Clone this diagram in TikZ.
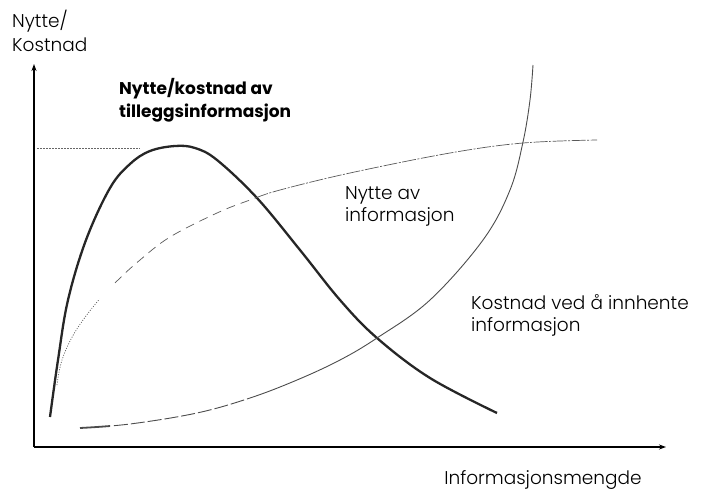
\documentclass[tikz,border=0pt]{standalone}
\usepackage{fontspec}
\IfFontExistsTF{Poppins Light}{\setmainfont{Poppins Light}[BoldFont=Poppins Bold]}{\setmainfont{Poppins}}
\usetikzlibrary{arrows.meta}
\begin{document}
\begin{tikzpicture}[x=1pt,y=-1pt,
  lbl/.style={inner sep=0pt,align=left,font=\fontsize{18.5}{22}\selectfont},
  axis/.style={line width=1.3pt,-{Stealth[length=7pt,width=5pt]}},
  netcurve/.style={line width=2.3pt,black!85},
  bencurve/.style={line width=0.7pt,black!65},
  costcurve/.style={line width=0.9pt,black!70}]
\useasboundingbox (0,0) rectangle (710,493);
\coordinate (O) at (34,447);
\coordinate (ytop) at (34,64);
\coordinate (xend) at (666,447);
\draw[axis] (O) -- (ytop);
\draw[axis] (O) -- (xend);
% dotted peak line
\coordinate (p1) at (37,148);
\coordinate (p2) at (140,148);
\draw[black!60,line width=0.6pt,dash pattern=on 1.5pt off 1.5pt] (p1) -- (p2);
% net benefit curve
\draw[netcurve] plot[smooth,tension=0.6] coordinates {(50,417) (58,360) (68,300) (86,240) (110,188) (130,164) (150,151) (175,146) (195,148) (217,160) (257,198) (300,250) (340,300) (377,338) (430,378) (497,413)};
% benefit curve (one smooth path, styles by x-range)
\def\bencoords{(57,385) (62,360) (75,332) (97,302) (118,280) (140,260) (170,237) (217,213) (250,200) (280,190) (350,173) (450,153) (523,143) (597,140)}
\begin{scope}
\clip (0,0) rectangle (99,493);
\draw[bencurve,dash pattern=on 1pt off 1.5pt] plot[smooth,tension=0.6] coordinates {\bencoords};
\end{scope}
\begin{scope}
\clip (114,0) rectangle (255,493);
\draw[bencurve,dash pattern=on 9pt off 6pt] plot[smooth,tension=0.6] coordinates {\bencoords};
\end{scope}
\begin{scope}
\clip (255,0) rectangle (710,493);
\draw[bencurve,dash pattern=on 14pt off 1.5pt on 2pt off 1.5pt] plot[smooth,tension=0.6] coordinates {\bencoords};
\end{scope}
% cost curve
\def\costcoords{(80,428) (130,424) (197,413) (250,398) (297,380) (340,360) (377,338) (430,300) (483,240) (510,190) (523,142) (530,100) (533,65)}
\begin{scope}
\clip (0,0) rectangle (110,493);
\draw[costcurve,line width=1.8pt] plot[smooth,tension=0.6] coordinates {\costcoords};
\end{scope}
\begin{scope}
\clip (112,0) rectangle (250,493);
\draw[costcurve,dash pattern=on 14pt off 3pt] plot[smooth,tension=0.6] coordinates {\costcoords};
\end{scope}
\begin{scope}
\clip (250,0) rectangle (710,493);
\draw[costcurve] plot[smooth,tension=0.6] coordinates {\costcoords};
\end{scope}
% labels
\node[lbl,anchor=west,font=\fontsize{18.5}{24}\selectfont] (yl) at (12,31) {Nytte/\\Kostnad};
\node[lbl,anchor=west,font=\fontsize{17}{23}\bfseries\selectfont] (tl) at (119,100) {Nytte/kostnad av\\tilleggsinformasjon};
\node[lbl,anchor=west] (bl) at (345,206) {Nytte av\\informasjon};
\node[lbl,anchor=west] (cl) at (471,315) {Kostnad ved å innhente\\informasjon};
\node[lbl] (xl) at (543,480) {Informasjonsmengde};
\end{tikzpicture}
\end{document}
